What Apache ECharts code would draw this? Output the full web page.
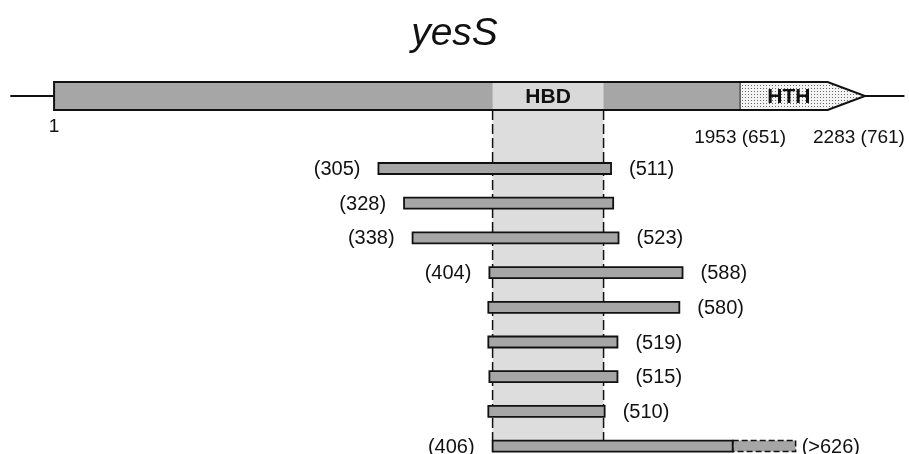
<!DOCTYPE html>
<html>
<head>
<meta charset="utf-8">
<script src="https://cdn.jsdelivr.net/npm/echarts@6/dist/echarts.min.js"></script>
<style>html,body{margin:0;padding:0;background:#fff}#c{width:909px;height:454px}</style>
</head>
<body>
<div id="c"></div>
<script>
// ---- data (residue positions, as drawn in the figure) ----
const geneName = 'yesS';
const flankLeft = -40, geneStart = 1, hthStart = 644, arrowShoulder = 726, geneEnd = 761, flankRight = 798;
const hbdStart = 412, hbdEnd = 516;
const domainNames = ['HBD', 'HTH'];
const geneTickLabels = ['1', '1953 (651)', '2283 (761)'];
const fragStart = [305, 329, 337, 409, 408, 408, 409, 408, 412];
const fragEnd = [523, 525, 530, 590, 587, 529, 529, 517, 637];
const fragDashedEnd = [null, null, null, null, null, null, null, null, 696];
const fragLeftLabel = ['(305)', '(328)', '(338)', '(404)', '', '', '', '', '(406)'];
const fragRightLabel = ['(511)', '', '(523)', '(588)', '(580)', '(519)', '(515)', '(510)', '(>626)'];

// ---- layout / style ----
const GENE_ROW = -2.09;
const FONT = '"Liberation Sans", Arial, sans-serif';
const GENE_H = 14, FRAG_H = 5.5;

const pat = document.createElement('canvas');
pat.width = 3; pat.height = 3;
const pc = pat.getContext('2d');
pc.fillStyle = '#f4f4f4'; pc.fillRect(0, 0, 3, 3);
pc.fillStyle = '#6a6a6a'; pc.fillRect(1, 1, 1, 1);

const chart = echarts.init(document.getElementById('c'), null, {renderer: 'canvas'});

function txt(text, x, y, align, size, weight, fill) {
  return {type: 'text', style: {text: text, x: x, y: y, align: align, verticalAlign: 'middle',
    fontSize: size, fontFamily: FONT, fontWeight: weight || 'normal', fill: fill || '#111'}};
}

function renderGene(params, api) {
  const X = v => api.coord([v, GENE_ROW])[0];
  const yc = api.coord([0, GENE_ROW])[1];
  const top = yc - GENE_H, bot = yc + GENE_H;
  const rowTop8 = api.coord([0, fragStart.length - 1])[1] - FRAG_H;
  const ch = [];
  // shaded HBD column
  ch.push({type: 'rect', shape: {x: X(hbdStart), y: bot, width: X(hbdEnd) - X(hbdStart), height: rowTop8 - bot},
    style: {fill: '#dddddd'}});
  // flanking lines
  ch.push({type: 'line', shape: {x1: X(flankLeft), y1: yc, x2: X(geneStart), y2: yc}, style: {stroke: '#111', lineWidth: 2}});
  ch.push({type: 'line', shape: {x1: X(geneEnd), y1: yc, x2: X(flankRight), y2: yc}, style: {stroke: '#111', lineWidth: 2}});
  // body
  ch.push({type: 'rect', shape: {x: X(geneStart), y: top, width: X(hthStart) - X(geneStart), height: 2 * GENE_H},
    style: {fill: '#a6a6a6'}});
  ch.push({type: 'rect', shape: {x: X(hbdStart), y: top, width: X(hbdEnd) - X(hbdStart), height: 2 * GENE_H},
    style: {fill: '#d9d9d9'}});
  // HTH arrow
  ch.push({type: 'polygon', shape: {points: [[X(hthStart), top], [X(arrowShoulder), top], [X(geneEnd), yc], [X(arrowShoulder), bot], [X(hthStart), bot]]},
    style: {fill: {image: pat, repeat: 'repeat'}}});
  ch.push({type: 'line', shape: {x1: X(hthStart), y1: top, x2: X(hthStart), y2: bot}, style: {stroke: '#333', lineWidth: 1.2}});
  // outline
  ch.push({type: 'polygon', shape: {points: [[X(geneStart), top], [X(arrowShoulder), top], [X(geneEnd), yc], [X(arrowShoulder), bot], [X(geneStart), bot]]},
    style: {fill: 'none', stroke: '#111', lineWidth: 2, lineJoin: 'miter'}});
  // domain labels
  ch.push(txt(domainNames[0], (X(hbdStart) + X(hbdEnd)) / 2, yc + 1, 'center', 21, 'bold', '#111'));
  ch.push(txt(domainNames[1], (X(hthStart) + X(arrowShoulder)) / 2 + 5, yc + 1, 'center', 21, 'bold', '#111'));
  // position labels
  ch.push(txt(geneTickLabels[0], X(geneStart), bot + 17, 'center', 19));
  ch.push(txt(geneTickLabels[1], X(hthStart), bot + 28, 'center', 19));
  ch.push(txt(geneTickLabels[2], X(geneEnd) - 6, bot + 28, 'center', 19));
  // dashed HBD boundaries
  [hbdStart, hbdEnd].forEach(v => {
    ch.push({type: 'line', z2: 10, shape: {x1: X(v), y1: bot, x2: X(v), y2: rowTop8},
      style: {stroke: '#111', lineWidth: 1.5, lineDash: [10, 4]}});
  });
  return {type: 'group', children: ch};
}

function renderFrag(params, api) {
  const s = api.value(0), e = api.value(1), row = api.value(2), i = params.dataIndex;
  const p0 = api.coord([s, row]), p1 = api.coord([e, row]);
  const ch = [];
  let rightEnd = p1[0];
  const de = fragDashedEnd[i];
  if (de != null) {
    const pd = api.coord([de, row]);
    ch.push({type: 'rect', shape: {x: p1[0], y: p1[1] - FRAG_H, width: pd[0] - p1[0], height: 2 * FRAG_H},
      style: {fill: '#a6a6a6', stroke: '#111', lineWidth: 1.5, lineDash: [6, 3]}});
    rightEnd = pd[0];
  }
  ch.push({type: 'rect', shape: {x: p0[0], y: p0[1] - FRAG_H, width: p1[0] - p0[0], height: 2 * FRAG_H},
    style: {fill: '#a6a6a6', stroke: '#111', lineWidth: 1.8}});
  if (fragLeftLabel[i]) ch.push(txt(fragLeftLabel[i], p0[0] - 18, p0[1] + 1, 'right', 20));
  if (fragRightLabel[i]) ch.push(txt(fragRightLabel[i], rightEnd + (de != null ? 6 : 18), p0[1] + 1, 'left', 20));
  return {type: 'group', children: ch};
}

const fragData = fragStart.map((s, i) => [s, fragEnd[i], i]);

chart.setOption({
  backgroundColor: '#fff',
  animation: false,
  title: {text: geneName, left: 'center', top: 10,
    textStyle: {fontSize: 39, fontStyle: 'italic', fontWeight: 'normal', fontFamily: FONT, color: '#111'}},
  grid: {left: 53, right: 2.4, top: 2, bottom: 1, containLabel: false},
  xAxis: {type: 'value', min: 0, max: 800, show: false},
  yAxis: {type: 'value', min: -4.8, max: 8.2, inverse: true, show: false},
  series: [
    {type: 'custom', renderItem: renderGene, data: [[0, GENE_ROW]], clip: false, z: 1},
    {type: 'custom', renderItem: renderFrag, data: fragData, clip: false, z: 2}
  ]
});
</script>
</body>
</html>
